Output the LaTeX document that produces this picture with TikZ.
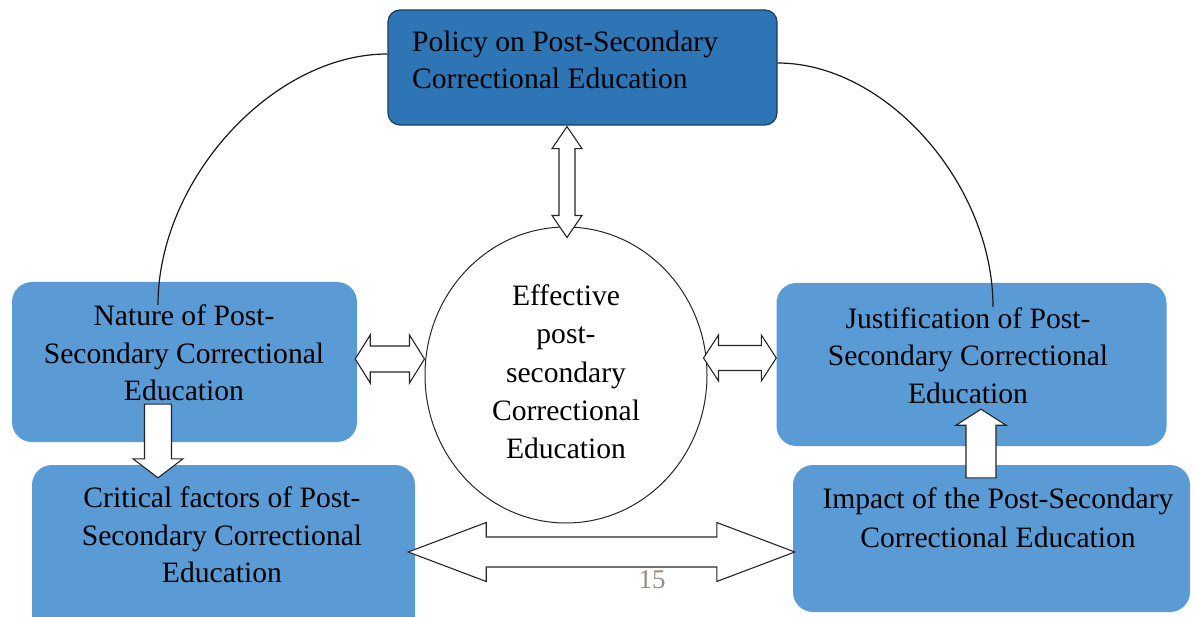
\documentclass[tikz,border=0pt]{standalone}
\usepackage{fontspec}
\setmainfont{Liberation Serif}
\usetikzlibrary{calc,shapes.geometric}
\definecolor{darkbox}{HTML}{2E75B6}
\definecolor{lightbox}{HTML}{5B9BD5}
\definecolor{darkedge}{HTML}{1F3A5F}
\definecolor{pagenum}{HTML}{9A8C80}
\tikzset{
  lbox/.style={rectangle, rounded corners=20pt, fill=lightbox, draw=none, inner sep=0pt},
  dbox/.style={rectangle, rounded corners=12pt, fill=darkbox, draw=darkedge, line width=1.2pt, inner sep=0pt},
  txt/.style={align=center, inner sep=0pt, text=black, font=\fontsize{29.6pt}{37.5pt}\selectfont},
  blockarrow/.style={draw=black!85, fill=white, line width=1.1pt, line join=miter},
  arcline/.style={draw=black!90, line width=1.2pt}
}
\newcommand\dblH[5]{% left tip, right tip, half shaft, half head, head length
  \draw[blockarrow] (#1) -- ($(#1)+(#5,-#4)$) -- ($(#1)+(#5,-#3)$) -- ($(#2)+(-#5,-#3)$) -- ($(#2)+(-#5,-#4)$) -- (#2)
   -- ($(#2)+(-#5,#4)$) -- ($(#2)+(-#5,#3)$) -- ($(#1)+(#5,#3)$) -- ($(#1)+(#5,#4)$) -- cycle;}
\newcommand\dblV[5]{% top tip, bottom tip, half shaft, half head, head length
  \draw[blockarrow] (#1) -- ($(#1)+(#4,#5)$) -- ($(#1)+(#3,#5)$) -- ($(#2)+(#3,-#5)$) -- ($(#2)+(#4,-#5)$) -- (#2)
   -- ($(#2)+(-#4,-#5)$) -- ($(#2)+(-#3,-#5)$) -- ($(#1)+(-#3,#5)$) -- ($(#1)+(-#4,#5)$) -- cycle;}
\newcommand\oneV[5]{% tail, tip, half shaft, half head, signed offset of head base from tip
  \draw[blockarrow] ($(#1)+(-#3,0)$) -- ($(#2)+(-#3,#5)$) -- ($(#2)+(-#4,#5)$) -- (#2)
   -- ($(#2)+(#4,#5)$) -- ($(#2)+(#3,#5)$) -- ($(#1)+(#3,0)$) -- cycle;}
\begin{document}
\begin{tikzpicture}[x=1pt,y=-1pt]
\useasboundingbox (0,0) rectangle (1194,617);
\clip (0,0) rectangle (1194,617);
\fill[white] (0,0) rectangle (1194,617);
% boxes
\node[dbox, minimum width=389pt, minimum height=115pt] (policy) at (582.5,67.5) {};
\node[lbox, minimum width=345pt, minimum height=160pt] (nature) at (184.5,362) {};
\node[lbox, minimum width=390pt, minimum height=163pt] (justif) at (971.5,364.5) {};
\node[lbox, minimum width=383pt, minimum height=175pt] (critical) at (223.5,552.5) {};
\node[lbox, minimum width=397pt, minimum height=147pt] (impact) at (991.5,538.5) {};
\node[ellipse, draw=black!85, line width=1pt, fill=white, minimum width=282pt, minimum height=296pt, inner sep=0pt] (core) at (566,375) {};
% arcs
\coordinate (la) at ($(policy.west)+(0,-13.5)$);
\coordinate (lb) at ($(nature.north)+(-26.5,23)$);
\draw[arcline] (la) .. controls ($(la)+(-115,0)$) and ($(lb)+(0,-125)$) .. (lb);
\coordinate (ra) at ($(policy.east)+(0,-4.5)$);
\coordinate (rb) at ($(justif.north)+(21.5,24)$);
\draw[arcline] (ra) .. controls ($(ra)+(109,0)$) and ($(rb)+(0,-122)$) .. (rb);
% arrows
\coordinate (ta) at ($(policy.south)+(-15.5,1)$);
\coordinate (tb) at ($(core.north)+(1,11)$);
\dblV{ta}{tb}{8}{15}{22}
\coordinate (na) at ($(nature.east)+(-2,-3)$);
\coordinate (nb) at ($(core.west)+(0,-16)$);
\dblH{na}{nb}{13}{24}{15}
\coordinate (ja) at ($(core.east)+(-4,-17)$);
\coordinate (jb) at ($(justif.west)+(0,-6.5)$);
\dblH{ja}{jb}{12.5}{23}{15}
\coordinate (ca) at ($(critical.east)+(-7,-0.5)$);
\coordinate (cb) at ($(impact.west)+(2,13.5)$);
\dblH{ca}{cb}{15}{29.5}{78}
\coordinate (da) at ($(nature.south)+(-26.5,-38)$);
\coordinate (db) at ($(critical.north)+(-65.5,13)$);
\oneV{da}{db}{13.5}{25}{-19}
\coordinate (ua) at ($(impact.north)+(-10.5,13)$);
\coordinate (ub) at ($(justif.south)+(9.5,-37)$);
\oneV{ua}{ub}{15}{25}{16}
% texts
\node[txt, align=left, anchor=west] (policytxt) at (412,60) {Policy on Post-Secondary\\Correctional Education};
\node[txt] (naturetxt) at (184,353) {Nature of Post-\\Secondary Correctional\\Education};
\node[txt] (justiftxt) at (968,355.5) {Justification of Post-\\Secondary Correctional\\Education};
\node[txt] (criticaltxt) at (222,535) {Critical factors of Post-\\Secondary Correctional\\Education};
\node[txt, font=\fontsize{29.6pt}{39pt}\selectfont] (impacttxt) at (998,518) {Impact of the Post-Secondary\\Correctional Education};
\node[txt, font=\fontsize{29.6pt}{38.3pt}\selectfont] (coretxt) at (566,372) {Effective\\post-\\secondary\\Correctional\\Education};
\node[inner sep=0pt, text=pagenum, font=\fontsize{27pt}{30pt}\selectfont] (page) at (652,580) {15};
\end{tikzpicture}
\end{document}
